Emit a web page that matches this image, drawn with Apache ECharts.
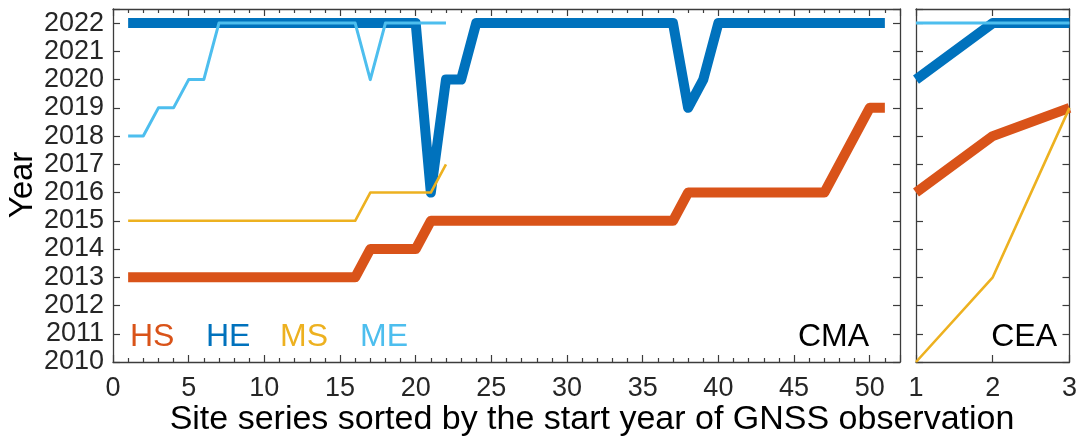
<!DOCTYPE html>
<html>
<head>
<meta charset="utf-8">
<script src="https://cdn.jsdelivr.net/npm/echarts@6/dist/echarts.min.js"></script>
<style>
  html, body { margin: 0; padding: 0; background: #fff; }
  #chart { width: 1080px; height: 442px; }
</style>
</head>
<body>
<div id="chart"></div>
<script>
// CMA sites, sorted (site 1..51)
var cmaHS = [2013,2013,2013,2013,2013,2013,2013,2013,2013,2013,2013,2013,2013,2013,2013,2013,
             2014,2014,2014,2014,
             2015,2015,2015,2015,2015,2015,2015,2015,2015,2015,2015,2015,2015,2015,2015,2015,2015,
             2016,2016,2016,2016,2016,2016,2016,2016,2016,2016,
             2017,2018,2019,2019];
var cmaHE = [2022,2022,2022,2022,2022,2022,2022,2022,2022,2022,2022,2022,2022,2022,2022,2022,2022,2022,2022,2022,
             2016,2020,2020,
             2022,2022,2022,2022,2022,2022,2022,2022,2022,2022,2022,2022,2022,2022,
             2019,2020,
             2022,2022,2022,2022,2022,2022,2022,2022,2022,2022,2022,2022];
var cmaMS = [2015,2015,2015,2015,2015,2015,2015,2015,2015,2015,2015,2015,2015,2015,2015,2015,
             2016,2016,2016,2016,2016,2017];
var cmaME = [2018,2018,2019,2019,2020,2020,
             2022,2022,2022,2022,2022,2022,2022,2022,2022,2022,
             2020,2022,2022,2022,2022,2022];
// CEA sites (1..3)
var ceaHS = [2016, 2018, 2019];
var ceaHE = [2020, 2022, 2022];
var ceaMS = [2010, 2013, 2019];
var ceaME = [2022, 2022, 2022];

var seriesNames = ['HS', 'HE', 'MS', 'ME'];
var colors = { HS: '#D95319', HE: '#0072BD', MS: '#EDB120', ME: '#4DBEEE' };
var widths = { HS: 10, HE: 10, MS: 2.6, ME: 3 };

var font = 'Liberation Sans, Arial, sans-serif';
var axisColor = '#3c3c3c';

function toPoints(arr) {
    return arr.map(function (v, i) { return [i + 1, v]; });
}

function lineSeries(name, arr, idx) {
    return {
        name: name,
        type: 'line',
        xAxisIndex: idx,
        yAxisIndex: idx,
        data: toPoints(arr),
        symbol: 'none',
        lineStyle: { color: colors[name], width: widths[name], join: 'round', cap: 'butt' },
        z: (name == 'MS' || name == 'ME') ? 5 : 3
    };
}

function xAx(grid, pos, min, max, minor, showLabel) {
    return {
        type: 'value', gridIndex: grid, position: pos, min: min, max: max, interval: minor ? 5 : 1,
        axisLine: { show: true, onZero: false, lineStyle: { color: axisColor, width: 1.3 } },
        axisTick: { show: true, inside: true, length: 7, lineStyle: { color: axisColor, width: 1.2 } },
        minorTick: { show: minor, splitNumber: 5, length: 4, lineStyle: { color: axisColor, width: 1.2 } },
        splitLine: { show: false },
        axisLabel: {
            show: showLabel, margin: 13, fontSize: 27, color: '#262626', fontFamily: font,
            formatter: function (v) { return (v > max - 1e-9 && minor) ? '' : String(v); }
        }
    };
}

function yAx(grid, pos, showLabel) {
    return {
        type: 'value', gridIndex: grid, position: pos, min: 2010, max: 2022.5, interval: 1,
        axisLine: { show: true, onZero: false, lineStyle: { color: axisColor, width: 1.3 } },
        axisTick: { show: true, inside: true, length: 7, lineStyle: { color: axisColor, width: 1.2 } },
        splitLine: { show: false },
        axisLabel: {
            show: showLabel, margin: 9, fontSize: 27, color: '#262626', fontFamily: font,
            formatter: function (v) { return Number.isInteger(v) ? String(v) : ''; }
        }
    };
}

var chart = echarts.init(document.getElementById('chart'));

// thick lines first, thin lines on top
var series = [
    lineSeries('HS', cmaHS, 0), lineSeries('HE', cmaHE, 0),
    lineSeries('MS', cmaMS, 0), lineSeries('ME', cmaME, 0),
    lineSeries('HS', ceaHS, 2), lineSeries('HE', ceaHE, 2),
    lineSeries('MS', ceaMS, 2), lineSeries('ME', ceaME, 2)
];

var legendX = { HS: 130, HE: 206, MS: 280, ME: 360 };
var graphics = seriesNames.map(function (n) {
    return {
        type: 'text', left: legendX[n], top: 321,
        style: { text: n, fill: colors[n], fontSize: 32, fontFamily: font }
    };
});
graphics.push({ type: 'text', right: 1080 - 869, top: 321, style: { text: 'CMA', fill: '#000', fontSize: 32, fontFamily: font } });
graphics.push({ type: 'text', right: 1080 - 1057, top: 321, style: { text: 'CEA', fill: '#000', fontSize: 32, fontFamily: font } });
graphics.push({
    type: 'text', x: 23, y: 185, rotation: Math.PI / 2,
    style: { text: 'Year', fill: '#000', fontSize: 33, fontFamily: font, textAlign: 'center', textVerticalAlign: 'middle' }
});
graphics.push({
    type: 'text', x: 592, y: 420,
    style: { text: 'Site series sorted by the start year of GNSS observation', fill: '#000', fontSize: 34,
             fontFamily: font, textAlign: 'center', textVerticalAlign: 'middle' }
});

var option = {
    animation: false,
    backgroundColor: '#fff',
    grid: [
        { left: 113, right: 180, top: 9, bottom: 80 },
        { left: 916, right: 7, top: 9, bottom: 80 }
    ],
    xAxis: [
        xAx(0, 'bottom', 0, 52, true, true),
        xAx(0, 'top', 0, 52, true, false),
        xAx(1, 'bottom', 1, 3, false, true),
        xAx(1, 'top', 1, 3, false, false)
    ],
    yAxis: [
        yAx(0, 'left', true),
        yAx(0, 'right', false),
        yAx(1, 'left', false),
        yAx(1, 'right', false)
    ],
    series: series,
    graphic: graphics
};
chart.setOption(option);
</script>
</body>
</html>
